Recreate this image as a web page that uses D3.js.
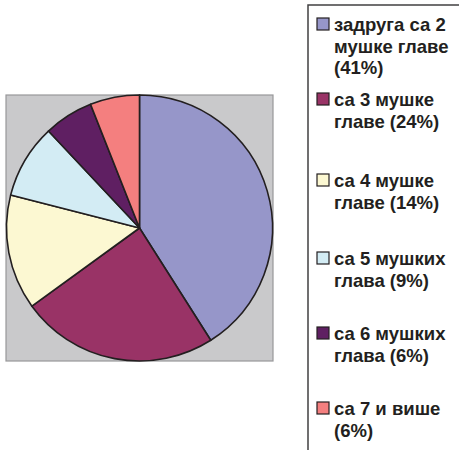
<!DOCTYPE html>
<html lang="sr">
<head>
<meta charset="UTF-8">
<title>Задруге по броју мушких глава</title>
<script src="https://d3js.org/d3.v7.min.js"></script>
<style>
  html, body { margin: 0; padding: 0; background: #fff; }
  svg text { font-family: "Liberation Sans", Arial, sans-serif; font-weight: bold; font-size: 18.5px; fill: #231f20; }
</style>
</head>
<body>
<svg id="chart"></svg>
<script>
// data
var categories = ["задруга са 2 мушке главе", "са 3 мушке главе", "са 4 мушке главе",
                  "са 5 мушких глава", "са 6 мушких глава", "са 7 и више"];
var values = [41, 24, 14, 9, 6, 6];
var legendLines = [
  ["задруга са 2", "мушке главе", "(41%)"],
  ["са 3 мушке", "главе (24%)"],
  ["са 4 мушке", "главе (14%)"],
  ["са 5 мушких", "глава (9%)"],
  ["са 6 мушких", "глава (6%)"],
  ["са 7 и више", "(6%)"]
];
var colors = ["#9696c9", "#993366", "#fcf8d2", "#d3ecf4", "#5f1f62", "#f47f7f"];

var width = 459, height = 450;
var svg = d3.select("#chart").attr("width", width).attr("height", height);

// plot area
var box = {x: 6, y: 95, w: 267, h: 266};
svg.append("rect")
  .attr("x", box.x).attr("y", box.y)
  .attr("width", box.w).attr("height", box.h)
  .attr("fill", "#c9c9cb")
  .attr("stroke", "#98989a")
  .attr("stroke-width", 1.2);

var cx = 139.5, cy = 228, r = 133;
var pie = d3.pie().sort(null).value(function(d) { return d; });
var arc = d3.arc().innerRadius(0).outerRadius(r);

svg.append("g")
  .attr("transform", "translate(" + cx + "," + cy + ")")
  .selectAll("path")
  .data(pie(values))
  .enter()
  .append("path")
  .attr("d", arc)
  .attr("fill", function(d, i) { return colors[i]; })
  .attr("stroke", "#231f20")
  .attr("stroke-width", 1.6)
  .attr("stroke-linejoin", "round");

// legend
svg.append("rect")
  .attr("x", 308).attr("y", 5)
  .attr("width", 200).attr("height", 500)
  .attr("fill", "#fff")
  .attr("stroke", "#414042")
  .attr("stroke-width", 1.5);

var entryY = [24, 99, 180, 258, 333, 408];
var lineH = 21.5;

var items = svg.append("g").selectAll("g")
  .data(categories)
  .enter()
  .append("g")
  .attr("transform", function(d, i) { return "translate(317," + entryY[i] + ")"; });

items.append("rect")
  .attr("x", 0).attr("y", -6)
  .attr("width", 12).attr("height", 12)
  .attr("fill", function(d, i) { return colors[i]; })
  .attr("stroke", "#231f20")
  .attr("stroke-width", 1.2);

items.each(function(d, i) {
  var t = d3.select(this).append("text");
  legendLines[i].forEach(function(s, j) {
    t.append("tspan").attr("x", 17).attr("y", 7 + j * lineH).text(s);
  });
});
</script>
</body>
</html>
